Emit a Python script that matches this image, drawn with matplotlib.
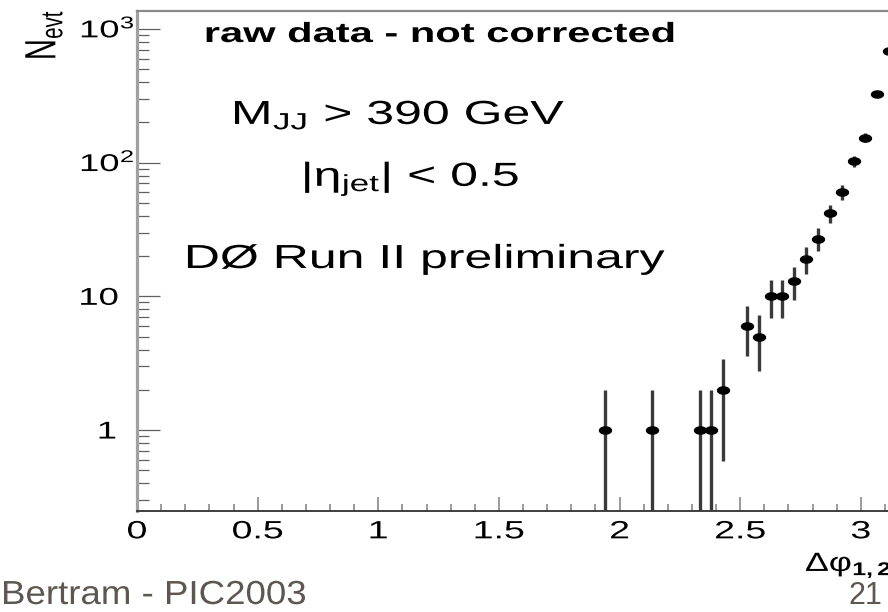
import numpy as np
import matplotlib
matplotlib.use("Agg")
import matplotlib.pyplot as plt
from matplotlib.path import Path
from matplotlib.patheffects import AbstractPathEffect
from matplotlib.transforms import Affine2D, blended_transform_factory, offset_copy
from matplotlib.ticker import FixedLocator, MultipleLocator, NullFormatter

# Azimuthal decorrelation of the two leading jets: bin centres and raw counts
dphi = [1.939, 2.135, 2.332, 2.381, 2.430, 2.528, 2.577, 2.626, 2.675,
        2.724, 2.774, 2.823, 2.872, 2.921, 2.970, 3.019, 3.068, 3.117]
n_evt = [1, 1, 1, 1, 2, 6, 5, 10, 10,
         13, 19, 27, 42, 60, 102, 154, 327, 685]

x_ticks = [0, 0.5, 1, 1.5, 2, 2.5, 3]
x_tick_labels = ["0", "0.5", "1", "1.5", "2", "2.5", "3"]
y_ticks = [1, 10, 100, 1000]
y_tick_labels = ["1", "10", "$10^{2}$", "$10^{3}$"]

W, H, DPI = 888, 612, 100
SX = 1.5  # horizontal stretch of the plot lettering

plt.rcParams["font.family"] = ["Liberation Sans", "DejaVu Sans"]
plt.rcParams["mathtext.fontset"] = "custom"
plt.rcParams["mathtext.rm"] = "Liberation Sans"
plt.rcParams["mathtext.it"] = "Liberation Sans:italic"
plt.rcParams["mathtext.bf"] = "Liberation Sans:bold"
plt.rcParams["mathtext.default"] = "regular"


class StretchX(AbstractPathEffect):
    """Draw a text path widened along the screen x direction."""

    def __init__(self, sx, anchor=None):
        super().__init__()
        self.sx = sx
        self.anchor = anchor  # display x kept fixed; None -> ink centre

    def draw_path(self, renderer, gc, tpath, affine, rgbFace=None):
        if self.anchor is None:
            ext = tpath.get_extents(affine)
            x0 = 0.5 * (ext.x0 + ext.x1)
        else:
            x0 = self.anchor
        t = affine + Affine2D().translate(-x0, 0).scale(self.sx, 1).translate(x0, 0)
        renderer.draw_path(gc, tpath, t, rgbFace)


def fx(px):
    return px / W


def fy(py):
    return 1 - py / H


fig = plt.figure(figsize=(W / DPI, H / DPI), dpi=DPI)
fig.patch.set_facecolor("white")

x_left, x_zero_to_pi = 137, 758
y_top, y_bot = 11, 511
ax = fig.add_axes([fx(x_left), fy(y_bot), x_zero_to_pi / W, (y_bot - y_top) / H])
ax.set_facecolor("white")
ax.set_yscale("log")
ax.set_xlim(0, np.pi)
ax.set_ylim(0.248, 1360)

# error bars (Poisson) and markers
n = np.asarray(n_evt, dtype=float)
ax.errorbar(dphi, n_evt, yerr=np.sqrt(n), fmt="none", ecolor="#3a3a3a",
            elinewidth=2.4, capsize=0, zorder=3)
t = np.linspace(0, 2 * np.pi, 41)
ellipse = Path(np.column_stack([np.cos(t), 0.6 * np.sin(t)]), closed=True)
ax.plot(dphi, n_evt, linestyle="none", marker=ellipse, markersize=8.6,
        color="black", zorder=4)

# frame
ax.spines["right"].set_visible(False)
ax.spines["left"].set_color("#a0a0a0")
ax.spines["left"].set_linewidth(2.3)
ax.spines["top"].set_color("#8a8a8a")
ax.spines["top"].set_linewidth(1.6)
ax.spines["bottom"].set_color("#303030")
ax.spines["bottom"].set_linewidth(1.3)

# x axis ticks
ax.xaxis.set_major_locator(FixedLocator(x_ticks))
ax.xaxis.set_minor_locator(MultipleLocator(0.1))
ax.set_xticks(x_ticks, x_tick_labels)
ax.tick_params(axis="x", which="major", direction="in", length=10, width=1.4,
               color="#9a9a9a", labelsize=18, pad=6.0, top=False)
ax.tick_params(axis="x", which="minor", direction="in", length=5, width=1.4,
               color="#9a9a9a", top=False)
for lbl in ax.get_xticklabels():
    lbl.set_path_effects([StretchX(SX)])

# y axis ticks, labels drawn by hand so the exponents hang to the right
ax.yaxis.set_major_locator(FixedLocator(y_ticks))
ax.yaxis.set_minor_locator(FixedLocator(
    [m * 10.0 ** e for e in range(-1, 4) for m in range(2, 10)]))
ax.yaxis.set_major_formatter(NullFormatter())
ax.yaxis.set_minor_formatter(NullFormatter())
ax.tick_params(axis="y", which="major", direction="in", length=16.5, width=0.9,
               color="#606060", right=False)
ax.tick_params(axis="y", which="minor", direction="in", length=8.6, width=0.9,
               color="#606060", right=False)

ylab_trans = offset_copy(blended_transform_factory(fig.transFigure, ax.transData),
                         fig=fig, x=0, y=-8.5, units="dots")
for val, lab in zip(y_ticks, y_tick_labels):
    if lab.startswith("$"):
        xa, ha = 79, "left"
    elif lab == "1":
        xa, ha = 117, "right"
    else:
        xa, ha = 119, "right"
    ax.text(fx(xa), val, lab, transform=ylab_trans, ha=ha, va="baseline",
            fontsize=17.5, color="black", clip_on=False,
            path_effects=[StretchX(SX, anchor=xa)])

# axis titles
fig.text(fx(44), fy(35), "$N_{evt}$", rotation=90, ha="center", va="center",
         fontsize=21, color="black", path_effects=[StretchX(SX)])
fig.text(fx(805), fy(571), r"$Δφ_{\mathbf{1,2}}$", ha="left", va="baseline",
         fontsize=19, color="black", path_effects=[StretchX(1.35, anchor=805)])

# selection notes inside the frame
fig.text(fx(440), fy(42), "raw data - not corrected", ha="center", va="baseline",
         fontsize=20, fontweight="bold", color="black",
         path_effects=[StretchX(SX)])
fig.text(fx(399), fy(124), "$M_{JJ}$ > 390 GeV", ha="center", va="baseline",
         fontsize=24, color="black", path_effects=[StretchX(SX)])
fig.text(fx(411), fy(186), r"$|η_{jet}|$ < 0.5", ha="center", va="baseline",
         fontsize=24, color="black", path_effects=[StretchX(SX)])
fig.text(fx(425), fy(268), "DØ Run II preliminary", ha="center", va="baseline",
         fontsize=24, color="black", path_effects=[StretchX(SX)])

# slide footer
footer = "#5e5750"
fig.text(fx(1), fy(611), "Bertram - PIC2003", ha="left", va="bottom",
         fontsize=24, color=footer, path_effects=[StretchX(1.1, anchor=1)])
fig.text(fx(848), fy(611), "21", ha="left", va="bottom",
         fontsize=22, color=footer)

fig.savefig("out.png", dpi=DPI, facecolor="white")
